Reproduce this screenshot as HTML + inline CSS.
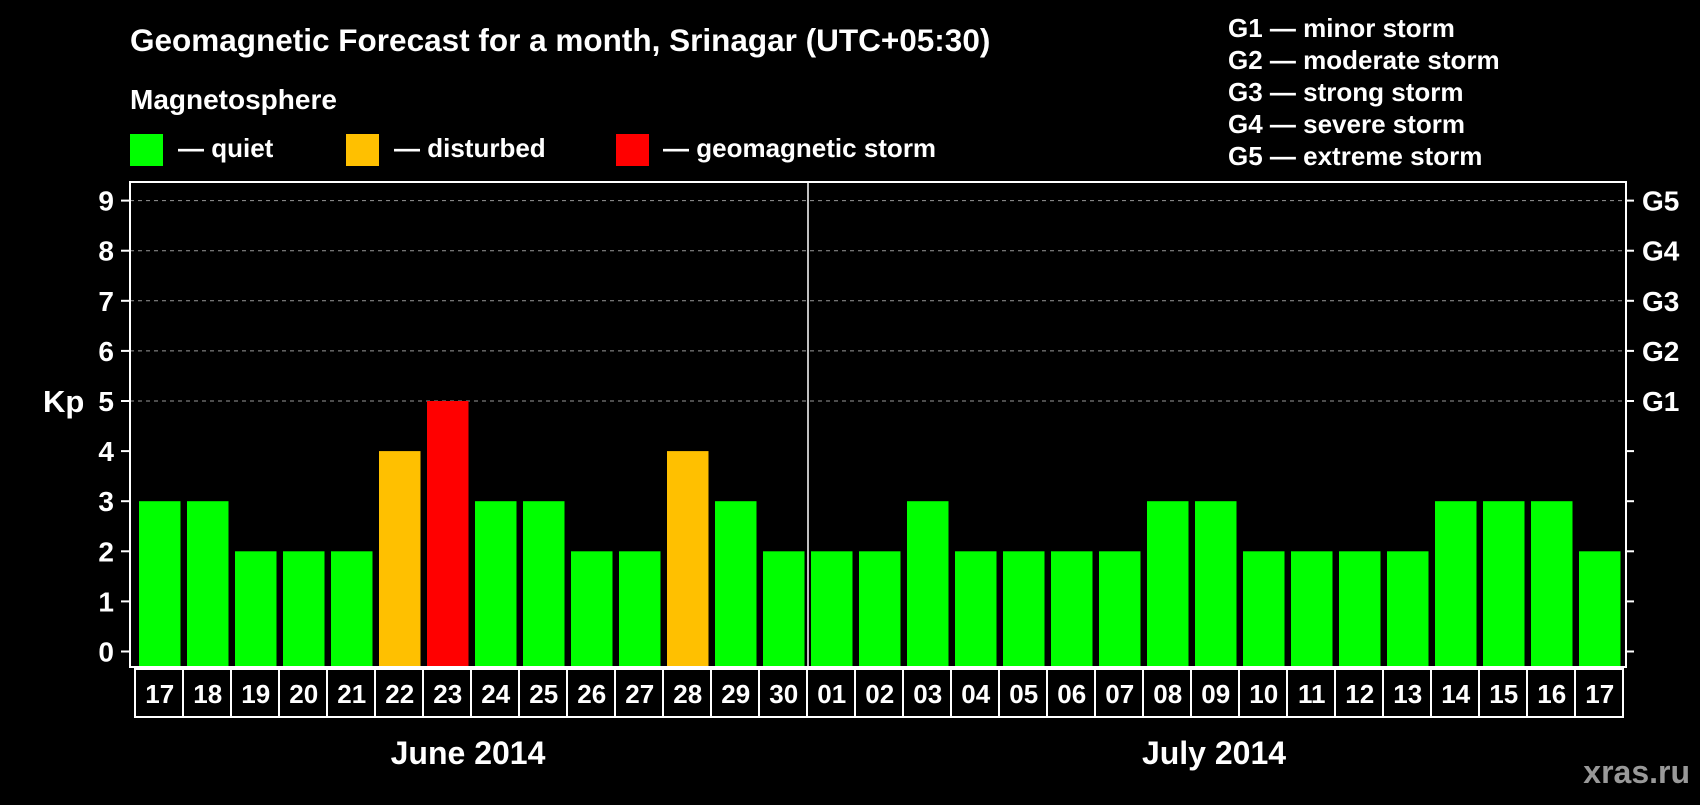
<!DOCTYPE html>
<html><head><meta charset="utf-8"><style>
body{margin:0;background:#000;width:1700px;height:800px;overflow:hidden}
svg text{font-family:"Liberation Sans",Arial,sans-serif;font-weight:bold;fill:#fff}
</style></head><body>
<svg id="chart" width="1700" height="800" xmlns="http://www.w3.org/2000/svg">
<text x="130" y="51" font-size="31.5">Geomagnetic Forecast for a month, Srinagar (UTC+05:30)</text>
<text x="130" y="109" font-size="28">Magnetosphere</text>
<g><rect x="130" y="134" width="33" height="32" fill="#00ff00"/><text x="178" y="157" font-size="26">— quiet</text></g>
<g><rect x="346" y="134" width="33" height="32" fill="#ffc000"/><text x="394" y="157" font-size="26">— disturbed</text></g>
<g><rect x="616" y="134" width="33" height="32" fill="#ff0000"/><text x="663" y="157" font-size="26">— geomagnetic storm</text></g>
<g font-size="26">
<text x="1228" y="37">G1 — minor storm</text>
<text x="1228" y="69">G2 — moderate storm</text>
<text x="1228" y="101">G3 — strong storm</text>
<text x="1228" y="133">G4 — severe storm</text>
<text x="1228" y="165">G5 — extreme storm</text>
</g>
<text x="43" y="412" font-size="31">Kp</text>
<g id="plot"></g>
<text x="468" y="764" font-size="32" text-anchor="middle">June 2014</text>
<text x="1214" y="764" font-size="32" text-anchor="middle">July 2014</text>
<text x="1690" y="783" font-size="32" text-anchor="end" style="fill:#999">xras.ru</text>
</svg>
<script>
const days=["17","18","19","20","21","22","23","24","25","26","27","28","29","30","01","02","03","04","05","06","07","08","09","10","11","12","13","14","15","16","17"];
const kp=[3,3,2,2,2,4,5,3,3,2,2,4,3,2,2,2,3,2,2,2,2,3,3,2,2,2,2,3,3,3,2];
const yTicks=[0,1,2,3,4,5,6,7,8,9];
const gLabels=["G1","G2","G3","G4","G5"];
const NS="http://www.w3.org/2000/svg";
const g=document.getElementById('plot');
const L=130,R=1626,T=182,B=667,y0=651.5,unit=50.1,x0=139,pitch=48,bw=41.5;
const y=v=>y0-v*unit, x=i=>x0+i*pitch;
function mk(t,a){const e=document.createElementNS(NS,t);for(const k in a)e.setAttribute(k,a[k]);g.appendChild(e);return e;}
yTicks.forEach(v=>{
  if(v>=5){const l=mk('line',{x1:L,x2:R,y1:y(v),y2:y(v),stroke:'#999','stroke-dasharray':'4,4','stroke-width':1});
  
  }
  mk('line',{x1:L-9,x2:L,y1:y(v),y2:y(v),stroke:'#fff','stroke-width':2});
  mk('line',{x1:R,x2:R+8,y1:y(v),y2:y(v),stroke:'#fff','stroke-width':2});
  const t=mk('text',{x:L-16,y:y(v)+10,'font-size':28,'text-anchor':'end'});t.textContent=v;
  
  
});
gLabels.forEach((s,i)=>{const t=mk('text',{x:R+16,y:y(5+i)+10,'font-size':28});t.textContent=s;
  
  });
kp.forEach((v,i)=>{
  const c=v>=5?'#ff0000':v>=4?'#ffc000':'#00ff00';
  const r=mk('rect',{x:x(i),y:y(v),width:bw,height:B-y(v),fill:c});
  
  
  const cell=mk('rect',{x:x(i)-4,y:B+2,width:pitch,height:48,fill:'none',stroke:'#fff','stroke-width':2});
  
  
  const t=mk('text',{x:x(i)+bw/2,y:B+36,'font-size':26,'text-anchor':'middle'});t.textContent=days[i];
  
  
});
const f=mk('rect',{x:L,y:T,width:R-L,height:B-T,fill:'none',stroke:'#fff','stroke-width':2});


const split=days.indexOf("01");
const d=mk('line',{x1:x(split)-3,x2:x(split)-3,y1:T,y2:B,stroke:'#fff','stroke-width':1.5});


</script>
</body></html>
